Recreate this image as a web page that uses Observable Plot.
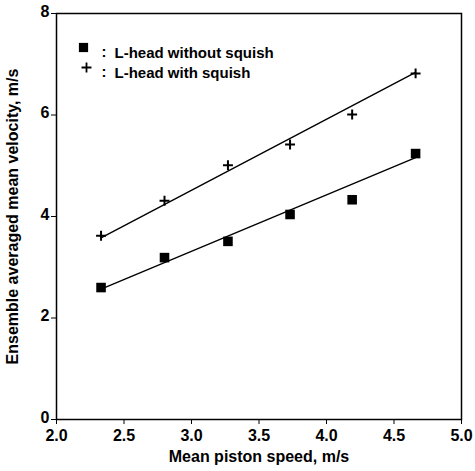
<!DOCTYPE html>
<html><head><meta charset="utf-8">
<script src="https://cdn.jsdelivr.net/npm/d3@7"></script>
<script src="https://cdn.jsdelivr.net/npm/@observablehq/plot@0.6"></script>
<style>body{margin:0;background:#fff}</style>
</head><body><div id="chart"></div>
<script>
const pistonSpeed = [2.33, 2.80, 3.27, 3.73, 4.19, 4.66];
const withoutSquish = [2.60, 3.19, 3.51, 4.04, 4.33, 5.24];
const withSquish = [3.62, 4.31, 5.01, 5.42, 6.01, 6.82];
const fitX = [2.33, 4.66];
const fitWithout = [2.57, 5.16];
const fitWith = [3.58, 6.84];
const xTicks = [2.0, 2.5, 3.0, 3.5, 4.0, 4.5, 5.0];
const yTicks = [0, 2, 4, 6, 8];
const legendLabels = ["L-head without squish", "L-head with squish"];

const ptsWithout = pistonSpeed.map((x, i) => ({x, y: withoutSquish[i]}));
const ptsWith = pistonSpeed.map((x, i) => ({x, y: withSquish[i]}));
const lineWithout = fitX.map((x, i) => ({x, y: fitWithout[i]}));
const lineWith = fitX.map((x, i) => ({x, y: fitWith[i]}));

const font = "Liberation Sans, Arial, Helvetica, sans-serif";
const chart = Plot.plot({
  width: 475, height: 471,
  marginLeft: 56, marginRight: 14, marginTop: 13, marginBottom: 52,
  style: {fontFamily: font, fontSize: "16px", fontWeight: "bold", color: "black", background: "white"},
  x: {domain: [2, 5]},
  y: {domain: [0, 8]},
  marks: [
    Plot.frame({stroke: "black", strokeWidth: 1.5}),
    Plot.axisX({ticks: xTicks, tickFormat: d => d.toFixed(1), tickSize: 5, tickPadding: 5, fontSize: 16,
      label: "Mean piston speed, m/s", labelAnchor: "center", labelArrow: "none", labelOffset: 42}),
    Plot.axisY({ticks: yTicks, tickSize: 5, tickFormat: () => "", label: null}),
    Plot.axisY({ticks: yTicks, tickSize: 0, tickPadding: 7, fontSize: 16, dy: -2,
      label: "Ensemble averaged mean velocity, m/s", labelAnchor: "center", labelArrow: "none", labelOffset: 50}),
    Plot.line(lineWith, {x: "x", y: "y", stroke: "black", strokeWidth: 1.4}),
    Plot.line(lineWithout, {x: "x", y: "y", stroke: "black", strokeWidth: 1.4}),
    Plot.dot(ptsWithout, {x: "x", y: "y", symbol: "square", r: 5.4, fill: "black", stroke: "none"}),
    Plot.dot(ptsWith, {x: "x", y: "y", symbol: "plus", r: 3.3, stroke: "black", strokeWidth: 2}),
    // legend
    Plot.dot([legendLabels[0]], {frameAnchor: "top-left", dx: 27, dy: 34, symbol: "square", r: 5.2, fill: "black", stroke: "none"}),
    Plot.dot([legendLabels[1]], {frameAnchor: "top-left", dx: 30, dy: 54, symbol: "plus", r: 3.3, stroke: "black", strokeWidth: 1.8}),
    Plot.text([legendLabels[0]], {text: d => d, frameAnchor: "top-left", textAnchor: "start", dx: 58, dy: 34, fontSize: 15}),
    Plot.text([legendLabels[1]], {text: d => d, frameAnchor: "top-left", textAnchor: "start", dx: 58, dy: 54, fontSize: 15}),
    Plot.text([":"], {text: d => d, frameAnchor: "top-left", dx: 45, dy: 33, fontSize: 15}),
    Plot.text([":"], {text: d => d, frameAnchor: "top-left", dx: 45, dy: 53, fontSize: 15})
  ]
});
document.getElementById("chart").append(chart);
</script></body></html>
